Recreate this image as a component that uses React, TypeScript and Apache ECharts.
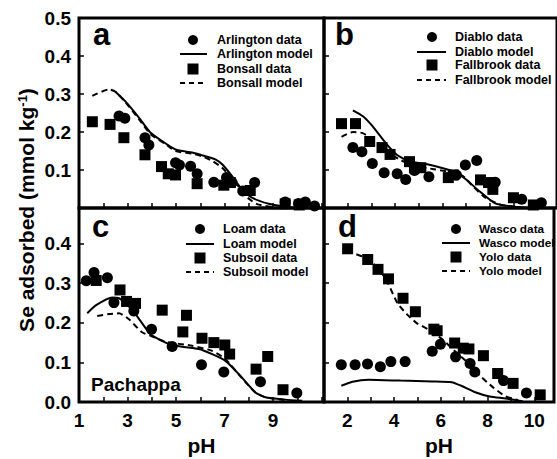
import React, { useEffect, useRef } from "react";
import * as echarts from "echarts";

type P = [number, number];

// Panel a
const arlingtonData: P[] = [[2.65,0.242],[2.89,0.236],[3.72,0.185],[3.88,0.166],[4.98,0.119],[5.14,0.113],[5.6,0.11],[5.87,0.09],[6.56,0.068],[7.08,0.08],[7.31,0.067],[7.75,0.045],[8.24,0.067],[9.5,0.016],[10.05,0.012],[10.33,0.016],[10.71,0.005]];
const bonsallData: P[] = [[1.55,0.227],[2.28,0.22],[2.85,0.185],[3.72,0.14],[4.4,0.109],[4.68,0.09],[4.98,0.087],[5.87,0.064],[6.97,0.06],[7.24,0.067],[8.06,0.046],[9.5,0.011],[10.08,0.008]];
const arlingtonModel: P[] = [[2.5,0.306],[2.92,0.28],[3.47,0.238],[3.95,0.198],[4.43,0.176],[4.98,0.154],[5.66,0.146],[6.07,0.139],[6.62,0.128],[6.9,0.115],[7.31,0.084],[7.72,0.049],[8.13,0.027],[8.82,0.011],[9.5,0.003],[9.9,0.0]];
const bonsallModel: P[] = [[1.55,0.295],[2.23,0.312],[2.5,0.306],[2.92,0.278],[3.47,0.234],[3.95,0.194],[4.57,0.168],[4.98,0.15],[5.66,0.143],[6.07,0.136],[6.49,0.124],[6.9,0.106],[7.45,0.067],[7.86,0.032],[8.34,0.01],[9.0,0.002]];

// Panel b
const diabloData: P[] = [[2.22,0.159],[2.6,0.148],[3.04,0.117],[3.54,0.093],[4.09,0.09],[4.45,0.075],[4.82,0.099],[5.43,0.082],[6.59,0.087],[6.97,0.113],[7.45,0.125],[8.23,0.068],[9.35,0.023],[10.18,0.014]];
const fallbrookData: P[] = [[1.74,0.222],[2.33,0.222],[2.93,0.175],[3.45,0.159],[3.79,0.141],[4.61,0.122],[4.82,0.106],[5.09,0.106],[6.25,0.08],[6.46,0.087],[7.61,0.074],[7.95,0.067],[8.13,0.049],[9.0,0.027],[9.84,0.008]];
const diabloModel: P[] = [[2.22,0.257],[2.63,0.242],[3.04,0.216],[3.59,0.172],[4.06,0.141],[4.54,0.124],[5.36,0.115],[6.18,0.102],[6.59,0.093],[7.0,0.075],[7.55,0.045],[8.23,0.012],[9.05,0.003],[9.6,0.0]];
const fallbrookModel: P[] = [[1.74,0.187],[2.22,0.2],[2.63,0.197],[3.18,0.176],[3.72,0.146],[4.27,0.125],[4.95,0.11],[5.64,0.102],[6.46,0.093],[6.87,0.084],[7.27,0.058],[7.82,0.027],[8.5,0.008],[9.3,0.002]];

// Panel c
const loamData: P[] = [[1.3,0.306],[1.62,0.327],[2.17,0.314],[2.44,0.251],[3.26,0.23],[3.99,0.184],[4.84,0.14],[6.05,0.094],[6.97,0.076],[8.48,0.051],[9.98,0.023]];
const subsoilData: P[] = [[1.71,0.307],[2.69,0.283],[2.96,0.254],[3.33,0.249],[4.43,0.232],[5.28,0.177],[5.43,0.219],[6.07,0.161],[6.56,0.15],[7.01,0.144],[7.21,0.121],[8.3,0.083],[8.78,0.115],[9.41,0.031]];
const loamModel: P[] = [[1.34,0.224],[1.69,0.244],[2.37,0.264],[2.65,0.262],[3.0,0.245],[3.33,0.222],[3.95,0.171],[4.57,0.15],[4.98,0.142],[5.94,0.134],[6.49,0.121],[7.04,0.104],[7.58,0.071],[8.27,0.024],[8.68,0.012],[9.5,0.006],[10.2,0.003]];
const subsoilModel: P[] = [[1.75,0.217],[2.23,0.222],[2.65,0.224],[3.06,0.209],[3.6,0.176],[4.0,0.166],[4.57,0.152],[5.66,0.142],[6.49,0.129],[7.04,0.108],[7.58,0.07],[8.27,0.024],[8.68,0.012],[9.5,0.005]];

// Panel d
const wascoData: P[] = [[1.74,0.094],[2.33,0.094],[2.86,0.096],[3.41,0.089],[3.86,0.102],[4.47,0.102],[5.63,0.128],[5.98,0.146],[6.63,0.114],[7.25,0.097],[7.45,0.076],[8.68,0.054],[9.66,0.023]];
const yoloData: P[] = [[2.01,0.387],[2.87,0.36],[3.31,0.335],[3.76,0.311],[4.38,0.262],[4.91,0.228],[5.7,0.184],[5.84,0.18],[6.59,0.149],[6.96,0.136],[7.2,0.134],[7.82,0.117],[8.43,0.072],[9.09,0.047],[10.25,0.018]];
const wascoModel: P[] = [[1.74,0.041],[2.22,0.051],[2.9,0.056],[4.27,0.054],[5.64,0.052],[6.46,0.05],[6.87,0.041],[7.41,0.026],[8.09,0.014],[8.77,0.009],[9.5,0.002]];
const yoloModel: P[] = [[2.01,0.385],[2.22,0.377],[2.77,0.364],[3.31,0.339],[3.72,0.302],[4.13,0.251],[4.54,0.222],[4.95,0.2],[5.5,0.182],[6.05,0.159],[6.59,0.129],[7.14,0.1],[7.68,0.066],[8.23,0.037],[8.77,0.014],[9.3,0.005]];

const panelLetters = ["a", "b", "c", "d"];
const legendLabels = [
  ["Arlington data", "Arlington model", "Bonsall data", "Bonsall model"],
  ["Diablo data", "Diablo model", "Fallbrook data", "Fallbrook model"],
  ["Loam data", "Loam model", "Subsoil data", "Subsoil model"],
  ["Wasco data", "Wasco model", "Yolo data", "Yolo model"],
];
const leftXTicks = [1, 3, 5, 7, 9];
const rightXTicks = [2, 4, 6, 8, 10];

const FONT = "'Liberation Sans', Arial, Helvetica, sans-serif";

export default function App() {
  const ref = useRef<HTMLDivElement>(null);
  useEffect(() => {
    document.body.style.margin = "0";
    if (!ref.current) return;
    const chart = echarts.init(ref.current, undefined, { renderer: "svg" });

    const gridStyle = { show: true, borderColor: "#000", borderWidth: 3, backgroundColor: "transparent" };
    const grids = [
      { left: 79, top: 18, width: 245, height: 190, ...gridStyle },
      { left: 324, top: 18, width: 240, height: 190, ...gridStyle },
      { left: 79, top: 208, width: 245, height: 194, ...gridStyle },
      { left: 324, top: 208, width: 240, height: 194, ...gridStyle },
    ];

    const tick = { show: true, inside: true, length: 5, lineStyle: { color: "#000", width: 1.5 } };
    const labelStyle = { color: "#000", fontSize: 19, fontWeight: "bold" as const, fontFamily: FONT };

    const mkX = (i: number) => {
      const left = i % 2 === 0;
      const bottom = i >= 2;
      const ticks = left ? leftXTicks : rightXTicks;
      return {
        type: "value" as const,
        gridIndex: i,
        min: 1,
        max: left ? 11.1 : 10.84,
        interval: 1,
        axisLine: { show: false },
        axisTick: tick,
        splitLine: { show: false },
        axisLabel: {
          show: bottom,
          margin: 9,
          ...labelStyle,
          formatter: (v: number) => (ticks.includes(Math.round(v * 1000) / 1000) ? String(v) : ""),
        },
        name: bottom ? "pH" : "",
        nameLocation: "middle" as const,
        nameGap: 33,
        nameTextStyle: { color: "#000", fontSize: 21, fontWeight: "bold" as const, fontFamily: FONT },
      };
    };
    const mkY = (i: number) => {
      const left = i % 2 === 0;
      const bottom = i >= 2;
      return {
        type: "value" as const,
        gridIndex: i,
        min: 0,
        max: bottom ? 0.49 : 0.5,
        interval: 0.1,
        axisLine: { show: false },
        axisTick: tick,
        splitLine: { show: false },
        axisLabel: {
          show: left,
          margin: 8,
          ...labelStyle,
          showMinLabel: bottom,
          showMaxLabel: !bottom,
          formatter: (v: number) => (Math.abs(v - 0.49) < 1e-6 ? "" : v.toFixed(1)),
        },
      };
    };

    const panels: P[][][] = [
      [arlingtonData, arlingtonModel, bonsallData, bonsallModel],
      [diabloData, diabloModel, fallbrookData, fallbrookModel],
      [loamData, loamModel, subsoilData, subsoilModel],
      [wascoData, wascoModel, yoloData, yoloModel],
    ];

    const series: any[] = [];
    panels.forEach((p, i) => {
      const names = legendLabels[i];
      series.push({
        type: "line", name: names[1], xAxisIndex: i, yAxisIndex: i, data: p[1],
        showSymbol: false, symbol: "none", smooth: 0.2,
        lineStyle: { color: "#000", width: 2 },
      });
      series.push({
        type: "line", name: names[3], xAxisIndex: i, yAxisIndex: i, data: p[3],
        showSymbol: false, symbol: "none", smooth: 0.2,
        lineStyle: { color: "#000", width: 2, type: [6, 4] },
      });
      series.push({
        type: "scatter", name: names[0], xAxisIndex: i, yAxisIndex: i, data: p[0],
        symbol: "circle", symbolSize: 11, itemStyle: { color: "#000", opacity: 1 },
      });
      series.push({
        type: "scatter", name: names[2], xAxisIndex: i, yAxisIndex: i, data: p[2],
        symbol: "rect", symbolSize: 11, itemStyle: { color: "#000", opacity: 1 },
      });
    });

    // legends (graphic)
    const legendPos = [
      { cx: 193, l1: 180, l2: 207, tx: 217, rows: [40, 54, 69, 83] },
      { cx: 432, l1: 417, l2: 446, tx: 455, rows: [37, 52, 65, 80] },
      { cx: 200, l1: 186, l2: 214, tx: 223, rows: [229, 244, 258, 272] },
      { cx: 456, l1: 442, l2: 470, tx: 479, rows: [229, 243, 257, 271] },
    ];
    const graphics: any[] = [];
    legendPos.forEach((lp, i) => {
      const [r0, r1, r2, r3] = lp.rows;
      graphics.push({ type: "circle", shape: { cx: lp.cx, cy: r0, r: 5 }, style: { fill: "#000" } });
      graphics.push({ type: "line", shape: { x1: lp.l1, y1: r1, x2: lp.l2, y2: r1 }, style: { stroke: "#000", lineWidth: 2 } });
      graphics.push({ type: "rect", shape: { x: lp.cx - 5.5, y: r2 - 5.5, width: 11, height: 11 }, style: { fill: "#000" } });
      graphics.push({ type: "line", shape: { x1: lp.l1, y1: r3, x2: lp.l2, y2: r3 }, style: { stroke: "#000", lineWidth: 2, lineDash: [5, 4] } });
      legendLabels[i].forEach((t, k) => {
        graphics.push({
          type: "text", x: lp.tx, y: lp.rows[k],
          style: { text: t, fill: "#000", fontSize: i === 3 ? 11.8 : 12.5, fontWeight: "bold", fontFamily: FONT, align: "left", verticalAlign: "middle" },
        });
      });
    });
    const letterPos = [[93, 34], [335, 34], [92, 226], [338, 226]];
    panelLetters.forEach((t, i) => {
      graphics.push({
        type: "text", x: letterPos[i][0], y: letterPos[i][1],
        style: { text: t, fill: "#000", fontSize: 31, fontWeight: "bold", fontFamily: FONT, align: "left", verticalAlign: "middle" },
      });
    });
    graphics.push({
      type: "text", x: 91, y: 384,
      style: { text: "Pachappa", fill: "#000", fontSize: 19, fontWeight: "bold", fontFamily: FONT, align: "left", verticalAlign: "middle" },
    });
    graphics.push({
      type: "text", x: 26, y: 210, rotation: Math.PI / 2,
      style: {
        text: "{t|Se adsorbed (mmol kg}{s|-1}{t|)}",
        align: "center", verticalAlign: "middle", fill: "#000",
        rich: {
          t: { fontSize: 21, fontWeight: "bold", fontFamily: FONT, fill: "#000" },
          s: { fontSize: 13, fontWeight: "bold", fontFamily: FONT, fill: "#000", verticalAlign: "top" },
        },
      },
    });

    chart.setOption({
      animation: false,
      backgroundColor: "#fff",
      grid: grids,
      xAxis: [0, 1, 2, 3].map(mkX),
      yAxis: [0, 1, 2, 3].map(mkY),
      series,
      graphic: graphics,
    });
    return () => chart.dispose();
  }, []);
  return <div ref={ref} style={{ width: 557, height: 459 }} />;
}
